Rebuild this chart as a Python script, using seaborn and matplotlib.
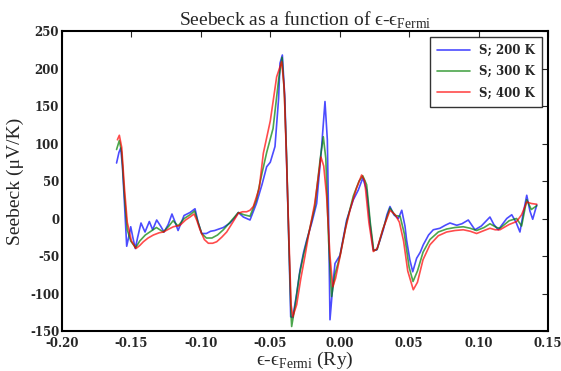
import numpy as np
import pandas as pd
import matplotlib
matplotlib.use("Agg")
import matplotlib.pyplot as plt
import seaborn as sns

# ---- data ----
x_200 = [-0.1607, -0.1590, -0.1577, -0.1565, -0.1550, -0.1534, -0.1520, -0.1505, -0.1490, -0.1472,
         -0.1455, -0.1431, -0.1402, -0.1371, -0.1347, -0.1318, -0.1290, -0.1265, -0.1235, -0.1208,
         -0.1185, -0.1164, -0.1140, -0.1121, -0.1078, -0.1042, -0.1020, -0.0994, -0.0960, -0.0930,
         -0.0900, -0.0870, -0.0838, -0.0790, -0.0760, -0.0730, -0.0694, -0.0646, -0.0600, -0.0560,
         -0.0526, -0.0500, -0.0466, -0.0440, -0.0430, -0.0413, -0.0395, -0.0382, -0.0365, -0.0353,
         -0.0338, -0.0310, -0.0286, -0.0260, -0.0238, -0.0200, -0.0166, -0.0130, -0.0106, -0.0089,
         -0.0080, -0.0070, -0.0050, -0.0034, 0.0002, 0.0050, 0.0098, 0.0134, 0.0166, 0.0194,
         0.0220, 0.0242, 0.0266, 0.0290, 0.0314, 0.0340, 0.0362, 0.0390, 0.0422, 0.0447,
         0.0470, 0.0482, 0.0505, 0.0526, 0.0554, 0.0580, 0.0602, 0.0640, 0.0674, 0.0722,
         0.0760, 0.0794, 0.0843, 0.0880, 0.0926, 0.0974, 0.1020, 0.1082, 0.1110, 0.1142,
         0.1203, 0.1239, 0.1270, 0.1298, 0.1320, 0.1347, 0.1370, 0.1390, 0.1419]
s_200 = [74, 88, 94, 70, 20, -37, -25, -11, -25, -40,
         -25, -6, -18, -4, -15, -2, -10, -18, -8, 6,
         -5, -16, -5, 4, 8, 13, -5, -20, -20, -17,
         -16, -14, -12, -6, 0, 8, 2, -2, 20, 45,
         69, 75, 96, 160, 207, 218, 160, 74, -40, -131,
         -132, -100, -69, -45, -29, -5, 20, 96, 156, 105,
         0, -135, -90, -60, -49, -2, 25, 38, 54, 38,
         -10, -42, -42, -29, -15, 5, 16, 5, 0, 11,
         -10, -29, -55, -71, -53, -45, -35, -22, -15, -13,
         -9, -6, -9, -7, -2, -15, -10, 2, -8, -15,
         0, 5, -5, -18, 5, 31, 10, -1, 18]

x_300 = [-0.1607, -0.1587, -0.1570, -0.1550, -0.1530, -0.1505, -0.1470, -0.1440, -0.1400, -0.1360,
         -0.1320, -0.1270, -0.1230, -0.1200, -0.1164, -0.1120, -0.1078, -0.1045, -0.1020, -0.0994,
         -0.0960, -0.0920, -0.0880, -0.0838, -0.0790, -0.0730, -0.0690, -0.0646, -0.0600, -0.0560,
         -0.0526, -0.0480, -0.0440, -0.0415, -0.0398, -0.0382, -0.0365, -0.0350, -0.0346, -0.0320,
         -0.0290, -0.0260, -0.0230, -0.0180, -0.0140, -0.0118, -0.0100, -0.0080, -0.0058, -0.0035,
         0.0002, 0.0050, 0.0098, 0.0140, 0.0166, 0.0194, 0.0220, 0.0245, 0.0270, 0.0310,
         0.0362, 0.0400, 0.0435, 0.0465, 0.0500, 0.0528, 0.0560, 0.0600, 0.0650, 0.0710,
         0.0770, 0.0830, 0.0890, 0.0940, 0.0986, 0.1040, 0.1082, 0.1130, 0.1154, 0.1220,
         0.1274, 0.1310, 0.1347, 0.1380, 0.1419]
s_300 = [92, 104, 88, 30, -15, -30, -39, -30, -22, -17,
         -12, -18, -10, -3, -10, 0, 5, 10, -5, -20,
         -26, -26, -22, -15, -5, 8, 5, 3, 25, 60,
         88, 120, 185, 215, 165, 80, -40, -130, -144, -115,
         -75, -48, -25, 15, 80, 109, 80, -30, -104, -75,
         -50, -5, 30, 50, 57, 45, -5, -43, -41, -15,
         14, 4, 3, -20, -65, -84, -70, -45, -28, -18,
         -14, -12, -11, -13, -16, -12, -7, -12, -13, -3,
         0, -10, 25, 12, 17]

x_400 = [-0.1601, -0.1587, -0.1570, -0.1550, -0.1530, -0.1500, -0.1467, -0.1440, -0.1414, -0.1380,
         -0.1342, -0.1300, -0.1270, -0.1230, -0.1198, -0.1150, -0.1110, -0.1078, -0.1049, -0.1030,
         -0.1006, -0.0975, -0.0946, -0.0915, -0.0886, -0.0850, -0.0814, -0.0770, -0.0730, -0.0700,
         -0.0670, -0.0646, -0.0622, -0.0580, -0.0550, -0.0500, -0.0454, -0.0418, -0.0400, -0.0385,
         -0.0365, -0.0350, -0.0338, -0.0310, -0.0280, -0.0250, -0.0226, -0.0180, -0.0135, -0.0115,
         -0.0094, -0.0070, -0.0050, -0.0030, 0.0002, 0.0040, 0.0074, 0.0120, 0.0158, 0.0180,
         0.0210, 0.0242, 0.0270, 0.0310, 0.0362, 0.0400, 0.0430, 0.0460, 0.0490, 0.0530,
         0.0560, 0.0600, 0.0650, 0.0710, 0.0770, 0.0830, 0.0890, 0.0940, 0.0986, 0.1040,
         0.1082, 0.1120, 0.1154, 0.1220, 0.1274, 0.1310, 0.1347, 0.1380, 0.1419]
s_400 = [105, 111, 95, 40, -5, -30, -40, -36, -31, -26,
         -22, -19, -18, -14, -11, -9, -2, 2, 6, -2,
         -15, -28, -33, -33, -31, -25, -18, -5, 7, 9,
         9, 11, 16, 40, 87, 130, 189, 209, 175, 90,
         -30, -115, -131, -115, -80, -50, -24, 20, 82, 70,
         29, -50, -91, -80, -51, -15, 11, 40, 58, 50,
         -5, -44, -40, -15, 11, 5, -5, -30, -70, -95,
         -85, -55, -35, -23, -18, -16, -15, -17, -20, -16,
         -13, -15, -15, -8, -4, 5, 22, 20, 19]

series_labels = ["S; 200 K", "S; 300 K", "S; 400 K"]
x_ticks = [-0.20, -0.15, -0.10, -0.05, 0.00, 0.05, 0.10, 0.15]
y_ticks = [-150, -100, -50, 0, 50, 100, 150, 200, 250]

df = pd.concat([
    pd.DataFrame({"x": x_200, "S": s_200, "series": series_labels[0]}),
    pd.DataFrame({"x": x_300, "S": s_300, "series": series_labels[1]}),
    pd.DataFrame({"x": x_400, "S": s_400, "series": series_labels[2]}),
], ignore_index=True)

sns.set_style("white")
plt.rcParams["axes.unicode_minus"] = False
plt.rcParams["mathtext.fontset"] = "custom"
plt.rcParams["mathtext.rm"] = "Liberation Serif"
plt.rcParams["font.family"] = ["Liberation Serif", "DejaVu Serif"]

fig = plt.figure(figsize=(5.61, 3.71), dpi=100)
ax = fig.add_axes([0.1105, 0.1078, 0.8663, 0.8086])

palette = {series_labels[0]: "#0000ff", series_labels[1]: "#008000", series_labels[2]: "#ff0000"}
sns.lineplot(data=df, x="x", y="S", hue="series", palette=palette, estimator=None,
             sort=False, alpha=0.7, linewidth=1.2, ax=ax)

ax.set_xlim(-0.20, 0.15)
ax.set_ylim(-150, 250)
ax.set_xticks(x_ticks)
ax.set_xticklabels([f"{t:.2f}" for t in x_ticks])
ax.set_yticks(y_ticks)
ax.set_yticklabels([str(t) for t in y_ticks])
ax.tick_params(direction="in", top=True, right=True, length=4, width=0.8)
ax.tick_params(axis="x", pad=4)
ax.tick_params(axis="y", pad=2)
for lab in ax.get_xticklabels() + ax.get_yticklabels():
    lab.set_fontfamily("DejaVu Serif")
    lab.set_fontweight("bold")
    lab.set_fontsize(8.5)
for sp in ax.spines.values():
    sp.set_linewidth(1.5)
    sp.set_color("black")

ax.set_title("Seebeck as a function of ϵ-ϵ$_{\\mathrm{Fermi}}$", fontsize=14, pad=4)
ax.set_xlabel("ϵ-ϵ$_{\\mathrm{Fermi}}$ (Ry)", fontsize=14, labelpad=0)
ax.set_ylabel("Seebeck (μV/K)", fontsize=14, labelpad=4)

leg = ax.legend(loc="upper right", frameon=True, fancybox=False,
                prop={"family": "DejaVu Serif", "weight": "bold", "size": 8.5},
                borderpad=0.6, labelspacing=0.7, handlelength=2.8)
leg.get_frame().set_edgecolor("black")
leg.get_frame().set_linewidth(1.0)

fig.savefig("out.png", dpi=100)
